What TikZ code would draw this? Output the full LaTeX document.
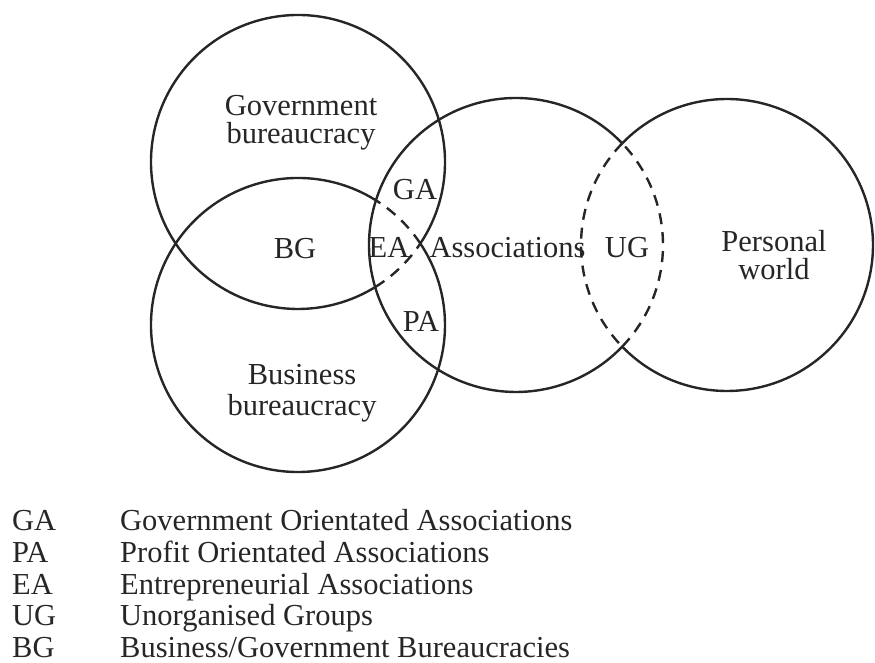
\documentclass[tikz,border=0pt]{standalone}
\usepackage{fontspec}
\setmainfont{Liberation Serif}
\tikzset{
  ring/.style={line width=2.4pt, draw=black!85},
  ringdash/.style={ring, dash pattern=on 11pt off 8pt},
  lbl/.style={inner sep=0pt, text=black!85, font=\fontsize{30.5}{30}\selectfont},
}
\begin{document}
\begin{tikzpicture}[x=1pt, y=1pt]
    \useasboundingbox (0,0) rectangle (875,663);
    % centres of the four circles
    \coordinate (gov) at (298,501);
    \coordinate (bus) at (298,338);
    \coordinate (asc) at (516,418);
    \coordinate (per) at (727,418);
    % outlines
    \draw[ring] (gov) ++(-33.7:147pt) arc[start angle=-33.7, end angle=301.7, radius=147pt];
    \draw[ringdash] (gov) ++(-58.3:147pt) arc[start angle=-58.3, end angle=-33.7, radius=147pt];
    \draw[ring] (bus) ++(58:147pt) arc[start angle=58, end angle=393.7, radius=147pt];
    \draw[ringdash] (bus) ++(33.7:147pt) arc[start angle=33.7, end angle=58, radius=147pt];
    \draw[ring] (asc) ++(43.7:147pt) arc[start angle=43.7, end angle=316.3, radius=147pt];
    \draw[ringdash] (asc) ++(-43.7:147pt) arc[start angle=-43.7, end angle=43.7, radius=147pt];
    \draw[ring] (per) ++(224.1:146pt) arc[start angle=224.1, end angle=495.9, radius=146pt];
    \draw[ringdash] (per) ++(135.9:146pt) arc[start angle=135.9, end angle=224.1, radius=146pt];
    % labels in the circles
    \node[lbl, align=center, font=\fontsize{30.5}{28}\selectfont] (govlabel) at (301,540) {Government\\bureaucracy};
    \node[lbl, align=center, font=\fontsize{30.5}{31}\selectfont] (buslabel) at (302,269.5) {Business\\bureaucracy};
    \node[lbl, align=center, font=\fontsize{30.5}{27.5}\selectfont] (perlabel) at (774,408) {Personal\\world};
    \node[lbl, anchor=base] (asclabel) at (507.5,405) {Associations};
    \node[lbl, anchor=base] (bg) at (295,404) {BG};
    \node[lbl, anchor=base] (ea) at (389,405) {EA};
    \node[lbl, anchor=base] (ga) at (415,463) {GA};
    \node[lbl, anchor=base] (pa) at (421,331) {PA};
    \node[lbl, anchor=base] (ug) at (627,405) {UG};
    % key
    \foreach \abbr/\desc [count=\i] in {GA/Government Orientated Associations, PA/Profit Orientated Associations, EA/Entrepreneurial Associations, UG/Unorganised Groups, BG/{Business/Government Bureaucracies}}{
        \node[lbl, anchor=base west] (key\i) at (12, 164.3-31.8*\i) {\abbr};
        \node[lbl, anchor=base west] (desc\i) at (120, 164.3-31.8*\i) {\desc};
    }
\end{tikzpicture}
\end{document}
